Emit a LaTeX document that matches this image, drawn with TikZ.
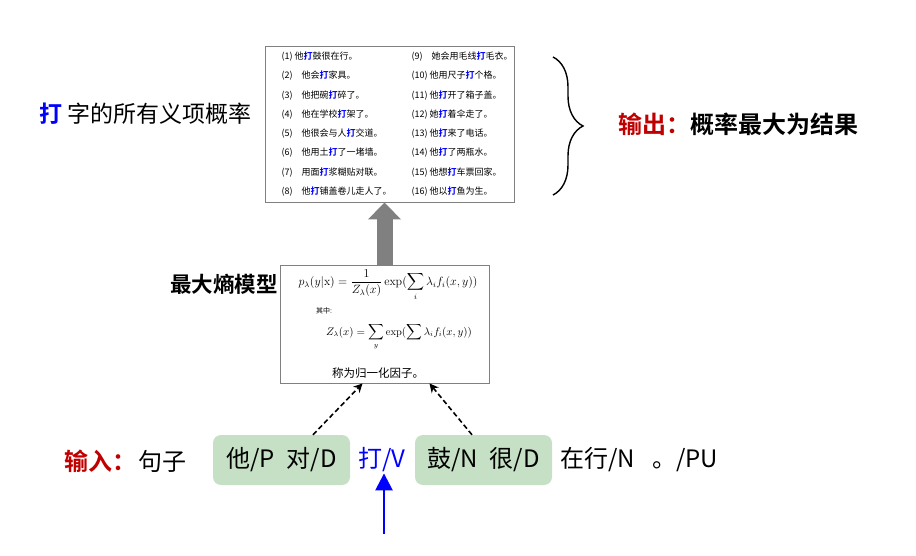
\documentclass[tikz,border=0pt]{standalone}
\usepackage{fontspec}
\usepackage{amsmath}
\usetikzlibrary{arrows.meta,decorations.pathreplacing,positioning}
\newfontfamily\cjk[BoldFont={Noto Sans CJK SC Bold}]{Noto Sans CJK SC}
\definecolor{redtxt}{RGB}{192,0,0}
\definecolor{greenbg}{RGB}{197,224,196}
\definecolor{boxgray}{RGB}{128,128,128}
\newcommand{\da}{{\color{blue}\bfseries 打}}

\begin{document}
\begin{tikzpicture}[x=1pt,y=-1pt,
    every node/.style={inner sep=0pt},
    item/.style={anchor=west,font=\cjk\fontsize{9}{11}\selectfont},
    big/.style={font=\cjk\fontsize{24}{28}\selectfont},
    bigbold/.style={font=\cjk\bfseries\fontsize{24}{28}\selectfont},
    panel/.style={draw=boxgray,line width=0.9pt},
    wordbox/.style={big,fill=greenbg,rounded corners=8pt,minimum width=137pt,minimum height=50pt},
    dasharrow/.style={line width=1.6pt,dash pattern=on 5pt off 3pt,-{Stealth[length=9pt,width=9pt]}}]

  \useasboundingbox (0,0) rectangle (916,556);

  % sense list
  \node[panel,minimum width=249pt,minimum height=156pt] (list) at (389.5,124) {};
  \begin{scope}[every node/.style={item}]
    \node (s1)  at (278,57)  {(1) 他\da 鼓很在行。};
    \node (s2)  at (278,76)  {(2)\quad 他会\da 家具。};
    \node (s3)  at (278,96)  {(3)\quad 他把碗\da 碎了。};
    \node (s4)  at (278,115) {(4)\quad 他在学校\da 架了。};
    \node (s5)  at (278,134) {(5)\quad 他很会与人\da 交道。};
    \node (s6)  at (278,153) {(6)\quad 他用土\da 了一堵墙。};
    \node (s7)  at (278,173) {(7)\quad 用面\da 浆糊贴对联。};
    \node (s8)  at (278,192) {(8)\quad 他\da 铺盖卷儿走人了。};
    \node (s9)  at (408,57)  {(9)\quad 她会用毛线\da 毛衣。};
    \node (s10) at (408,76)  {(10) 他用尺子\da 个格。};
    \node (s11) at (408,96)  {(11) 他\da 开了箱子盖。};
    \node (s12) at (408,115) {(12) 她\da 着伞走了。};
    \node (s13) at (408,134) {(13) 他\da 来了电话。};
    \node (s14) at (408,153) {(14) 他\da 了两瓶水。};
    \node (s15) at (408,173) {(15) 他想\da 车票回家。};
    \node (s16) at (408,192) {(16) 他以\da 鱼为生。};
  \end{scope}

  \node[anchor=west,font=\cjk\fontsize{23}{27}\selectfont] (senses) at (39,114)
    {{\color{blue}\bfseries 打} 字的所有义项概率};

  \draw[line width=1.4pt,decorate,decoration={brace,amplitude=30pt}]
    (553,57) -- (553,195);
  \node[anchor=west,bigbold] (out) at (618,124) {{\color{redtxt}输出：}概率最大为结果};

  % model
  \node[panel,minimum width=209pt,minimum height=118pt] (model) at (384.5,324) {};
  \node[anchor=east,font=\cjk\bfseries\fontsize{21.5}{25}\selectfont] (title) at (278,284) {最大熵模型};
  \node[font=\fontsize{12}{14}\selectfont] (f1) at (388,285)
    {$p_\lambda(y|\mathrm{x})=\dfrac{1}{Z_\lambda(x)}\exp(\displaystyle\sum_i\lambda_i f_i(x,y))$};
  \node[anchor=west,font=\cjk\fontsize{7}{8}\selectfont] (note) at (316,311) {其中:};
  \node[font=\fontsize{10.5}{12}\selectfont] (f2) at (399,337)
    {$Z_\lambda(x)=\displaystyle\sum_y\exp(\sum\lambda_i f_i(x,y))$};
  \node[font=\cjk\fontsize{11.5}{13}\selectfont] (norm) at (378,373) {称为归一化因子。};

  \draw[boxgray,line width=16pt,-{Triangle[width=32pt,length=17pt]}]
    (model.north) -- (model.north |- list.south);

  % input sentence
  \node[anchor=west,bigbold,text=redtxt] (in) at (64,461) {输入：};
  \node[anchor=west,big] (sent) at (138,461) {句子};
  \node[wordbox] (gL) at (281.5,460) {他/P\hspace{12pt}对/D};
  \node[big,text=blue] (da) at (382,460) {打/V};
  \node[wordbox] (gR) at (483.5,460) {鼓/N\hspace{12pt}很/D};
  \node[anchor=west,big] (zx) at (560,460) {在行/N};
  \node[anchor=west,big] (pu) at (652,460) {。/PU};

  \draw[dasharrow] ([xshift=31.5pt]gL.north) -- ([xshift=-22pt]model.south);
  \draw[dasharrow] ([xshift=-11.5pt]gR.north) -- ([xshift=45pt]model.south);

  \coordinate (src) at (384,534);
  \draw[blue,line width=2.6pt,-{Triangle[width=17pt,length=17pt]}] (src) -- ([yshift=-1pt]da.south -| src);

\end{tikzpicture}
\end{document}
